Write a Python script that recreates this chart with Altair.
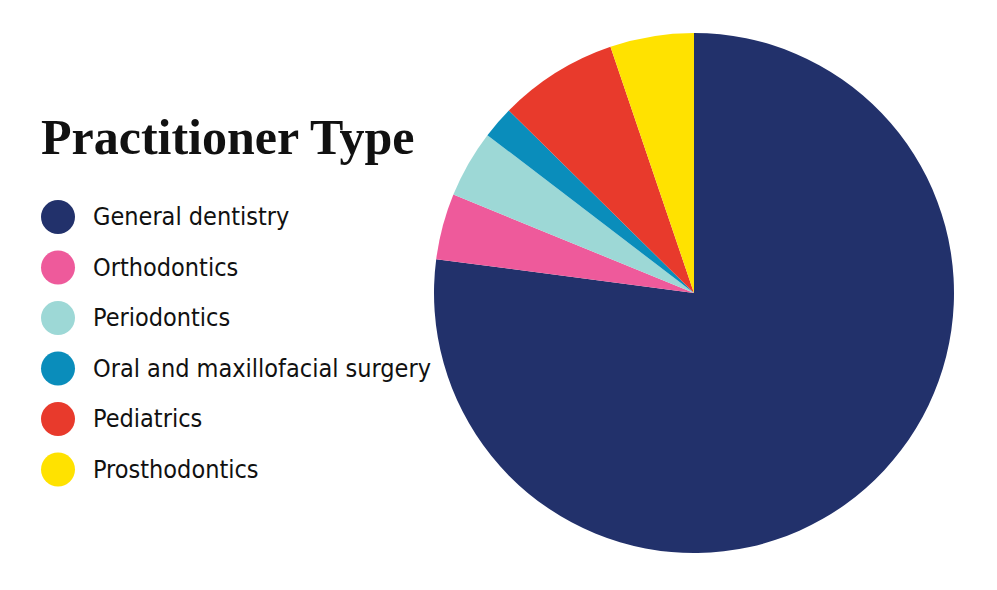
import altair as alt
import pandas as pd

categories = ["General dentistry", "Orthodontics", "Periodontics",
              "Oral and maxillofacial surgery", "Pediatrics", "Prosthodontics"]
values = [77.0, 4.1, 4.2, 2.0, 7.4, 5.2]
colors = ["#22316B", "#EE5A9B", "#9DD8D6", "#0A8DBB", "#E83A2C", "#FFE200"]

df = pd.DataFrame({"category": categories, "value": values, "idx": list(range(len(categories)))})

chart = alt.Chart(df).mark_arc(radius=260, stroke=None).encode(
    theta=alt.Theta("value:Q", stack=True),
    color=alt.Color(
        "category:N",
        scale=alt.Scale(domain=categories, range=colors),
        sort=categories,
        legend=alt.Legend(
            title="Practitioner Type",
            orient="none",
            legendX=-383,
            legendY=91,
            titleFont="Liberation Serif",
            titleFontSize=50,
            titleFontWeight="bold",
            titleColor="#111111",
            titleLimit=600,
            titlePadding=36,
            symbolType="circle",
            symbolSize=1156,
            symbolStrokeWidth=0,
            symbolOpacity=1,
            labelFont="DejaVu Sans Condensed",
            labelFontSize=25,
            labelColor="#111111",
            labelOffset=18,
            labelLimit=500,
            rowPadding=16.5,
            padding=0,
        ),
    ),
    order=alt.Order("idx:Q"),
).properties(
    width=540,
    height=540,
    autosize=alt.AutoSizeParams(type="none"),
    padding={"left": 416, "top": 15, "right": 25, "bottom": 19},
).configure_view(stroke=None).configure(background="white")

chart.save("out.html", embed_options={"renderer": "svg", "actions": False})
